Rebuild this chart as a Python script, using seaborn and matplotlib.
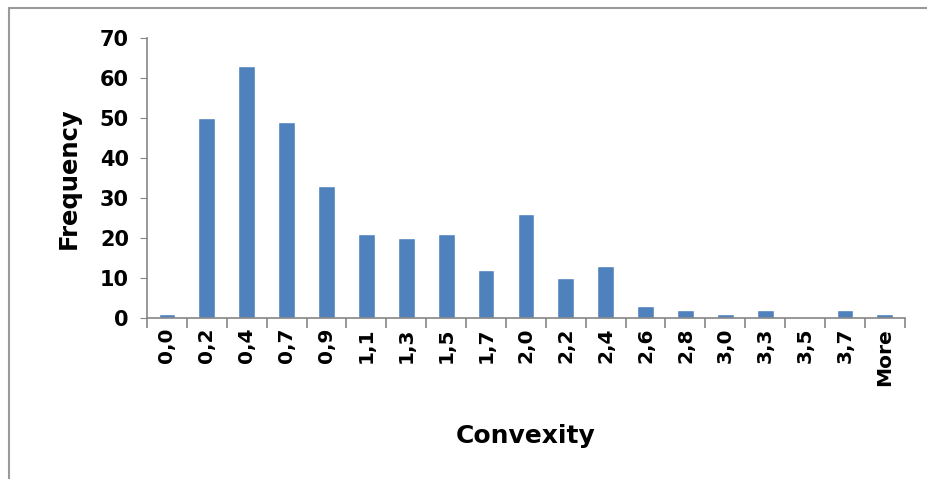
import matplotlib.pyplot as plt
import seaborn as sns
import numpy as np
from matplotlib.lines import Line2D

# histogram bins (Excel style labels) and frequencies
bins = ["0,0", "0,2", "0,4", "0,7", "0,9", "1,1", "1,3", "1,5", "1,7", "2,0",
        "2,2", "2,4", "2,6", "2,8", "3,0", "3,3", "3,5", "3,7", "More"]
freq = [1, 50, 63, 49, 33, 21, 20, 21, 12, 26, 10, 13, 3, 2, 1, 2, 0, 2, 1]

sns.set_style("white")
plt.rcParams['font.family'] = ['DejaVu Sans']
plt.rcParams['text.color'] = 'black'
plt.rcParams['xtick.color'] = 'black'
plt.rcParams['ytick.color'] = 'black'
plt.rcParams['axes.labelcolor'] = 'black'

fig = plt.figure(figsize=(9.27, 4.79), dpi=100)
ax = fig.add_axes([0.1586, 0.336, 0.8174, 0.585])

sns.barplot(x=bins, y=freq, color="#4F81BD", saturation=1, width=0.42, ax=ax)

ax.set_xlim(-0.5, len(bins) - 0.5)
ax.set_ylim(0, 70)
ax.set_yticks(np.arange(0, 71, 10))

grey = "#868686"
for s in ["top", "right"]:
    ax.spines[s].set_visible(False)
for s in ["left", "bottom"]:
    ax.spines[s].set_color(grey)
    ax.spines[s].set_linewidth(1.2)

ax.tick_params(axis="y", which="major", left=True, length=5, color=grey,
               labelsize=15, pad=8)
ax.tick_params(axis="x", which="major", bottom=False, length=0, labelsize=14.5, pad=7)
ax.set_xticks(np.arange(-0.5, len(bins), 1), minor=True)
ax.tick_params(axis="x", which="minor", bottom=True, length=7, color=grey, width=1.2)

for lab in ax.get_xticklabels():
    lab.set_rotation(90)
    lab.set_fontweight("bold")
for lab in ax.get_yticklabels():
    lab.set_fontweight("bold")

ax.set_xlabel("Convexity", fontsize=18, fontweight="bold", labelpad=28)
ax.set_ylabel("Frequency", fontsize=17.5, fontweight="bold", labelpad=14)

# chart frame (top and left edges visible)
fig.add_artist(Line2D([0.0095, 0.0095], [0, 0.983], color="#9a9a9a", lw=1.5,
                      transform=fig.transFigure))
fig.add_artist(Line2D([0.0095, 1], [0.983, 0.983], color="#9a9a9a", lw=1.5,
                      transform=fig.transFigure))

fig.savefig("out.png", dpi=100)
